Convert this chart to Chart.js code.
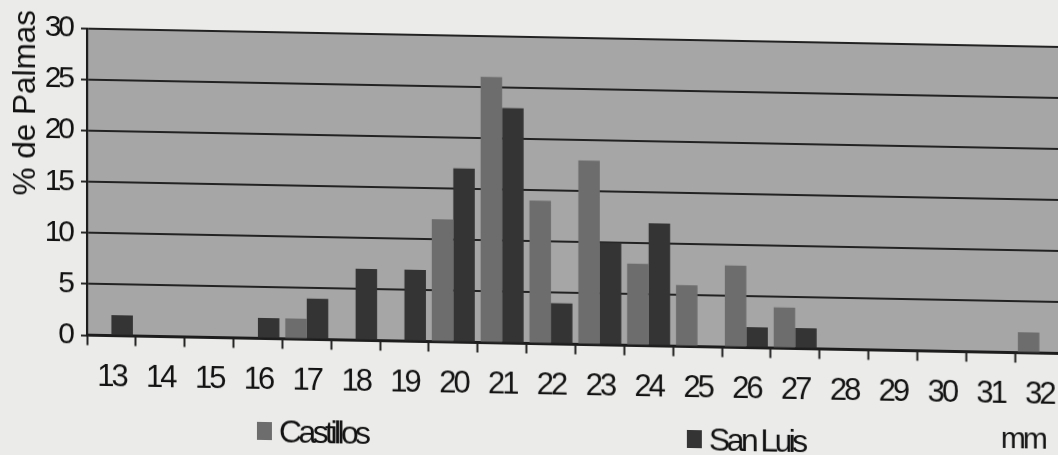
<!DOCTYPE html>
<html>
<head>
<meta charset="utf-8">
<script src="https://cdn.jsdelivr.net/npm/chart.js@4.4.1/dist/chart.umd.min.js"></script>
<style>
  html, body { margin: 0; padding: 0; background: #ebebe9; overflow: hidden; width: 1058px; height: 455px; }
  #wrap { position: relative; width: 1076px; height: 455px; }
  canvas { display: block; transform: skewY(1.08deg); transform-origin: 0 0; }
</style>
</head>
<body>
<div id="wrap"><canvas id="chart" width="1076" height="455"></canvas></div>
<script>
// Leaf length classes (mm) and share of palms (%) per locality
const categories = ['13','14','15','16','17','18','19','20','21','22','23','24','25','26','27','28','29','30','31','32'];
const castillos  = [0, 0, 0, 0, 2, 0, 0, 12, 26, 14, 18, 8, 6, 8, 4, 0, 0, 0, 0, 2];
const sanLuis    = [2, 0, 0, 2, 4, 7, 7, 17, 23, 4, 10, 12, 0, 2, 2, 0, 0, 0, 0, 0];
const yTicks     = [0, 5, 10, 15, 20, 25, 30];
const seriesNames = ['Castillos', 'San Luis'];
const yAxisTitle = '% de Palmas';
const xAxisUnit  = 'mm';

const FONT = '"Liberation Sans", Arial, Helvetica, sans-serif';
const INK = '#121212';
const GRID = '#222222';

// Grey plot area behind the grid, plus condensed lettering for the axis labels
const plotBackground = {
  id: 'plotBackground',
  beforeDraw(chart) {
    const { ctx, chartArea: a } = chart;
    ctx.save();
    ctx.fillStyle = '#a6a6a6';
    ctx.fillRect(a.left, a.top, a.right - a.left, a.bottom - a.top);
    ctx.restore();
    ctx.letterSpacing = '-3px';
  }
};

// Axis title, unit label and the series key along the bottom
const annotations = {
  id: 'annotations',
  afterDraw(chart) {
    const { ctx, chartArea: a } = chart;
    ctx.save();
    ctx.fillStyle = INK;

    // vertical axis title, reading upwards, ending above the plot
    ctx.save();
    ctx.letterSpacing = '0px';
    ctx.font = '31.5px ' + FONT;
    ctx.translate(35, a.top + 168);
    ctx.rotate(-Math.PI / 2);
    ctx.textAlign = 'left';
    ctx.textBaseline = 'alphabetic';
    ctx.fillText(yAxisTitle, 0, 0);
    ctx.restore();

    // series key
    const slots = [257, 687];
    ctx.font = '32px ' + FONT;
    ctx.letterSpacing = '-3.6px';
    ctx.textAlign = 'left';
    ctx.textBaseline = 'alphabetic';
    chart.data.datasets.forEach((ds, i) => {
      const x = slots[i];
      ctx.fillStyle = ds.backgroundColor;
      ctx.fillRect(x, 417, 15, 18);
      ctx.fillStyle = INK;
      ctx.fillText(ds.label, x + 22, 436.5);
    });

    // unit of the category axis
    ctx.font = '30px ' + FONT;
    ctx.letterSpacing = '-3px';
    ctx.fillText(xAxisUnit, 1001, 429);
    ctx.restore();
  }
};

new Chart(document.getElementById('chart'), {
  type: 'bar',
  data: {
    labels: categories,
    datasets: [
      { label: seriesNames[0], data: castillos, backgroundColor: '#6d6d6d' },
      { label: seriesNames[1], data: sanLuis,   backgroundColor: '#343434' }
    ]
  },
  options: {
    responsive: false,
    animation: false,
    devicePixelRatio: 1,
    layout: { padding: { top: 25, right: 12, left: 0, bottom: 0 } },
    datasets: { bar: { barPercentage: 1.0, categoryPercentage: 0.88, borderWidth: 0 } },
    plugins: {
      legend: { display: false },
      tooltip: { enabled: false }
    },
    scales: {
      x: {
        offset: true,
        grid: {
          offset: true,
          drawOnChartArea: false,
          drawTicks: true,
          tickLength: 10,
          tickWidth: 2,
          tickColor: GRID
        },
        border: { display: true, color: '#1c1c1c', width: 2.2 },
        ticks: {
          color: INK,
          font: { family: FONT, size: 31 },
          padding: 13,
          maxRotation: 0,
          autoSkip: false
        },
        afterFit(s) { s.height = 121.5; }
      },
      y: {
        min: 0,
        max: 30,
        afterBuildTicks(s) { s.ticks = yTicks.map(v => ({ value: v })); },
        grid: {
          color: GRID,
          lineWidth: 1.9,
          drawTicks: true,
          tickLength: 6
        },
        border: { display: true, color: '#1c1c1c', width: 2.2 },
        ticks: {
          color: INK,
          font: { family: FONT, size: 30 },
          padding: 9
        },
        afterFit(s) { s.width = 87; }
      }
    }
  },
  plugins: [plotBackground, annotations]
});
</script>
</body>
</html>
